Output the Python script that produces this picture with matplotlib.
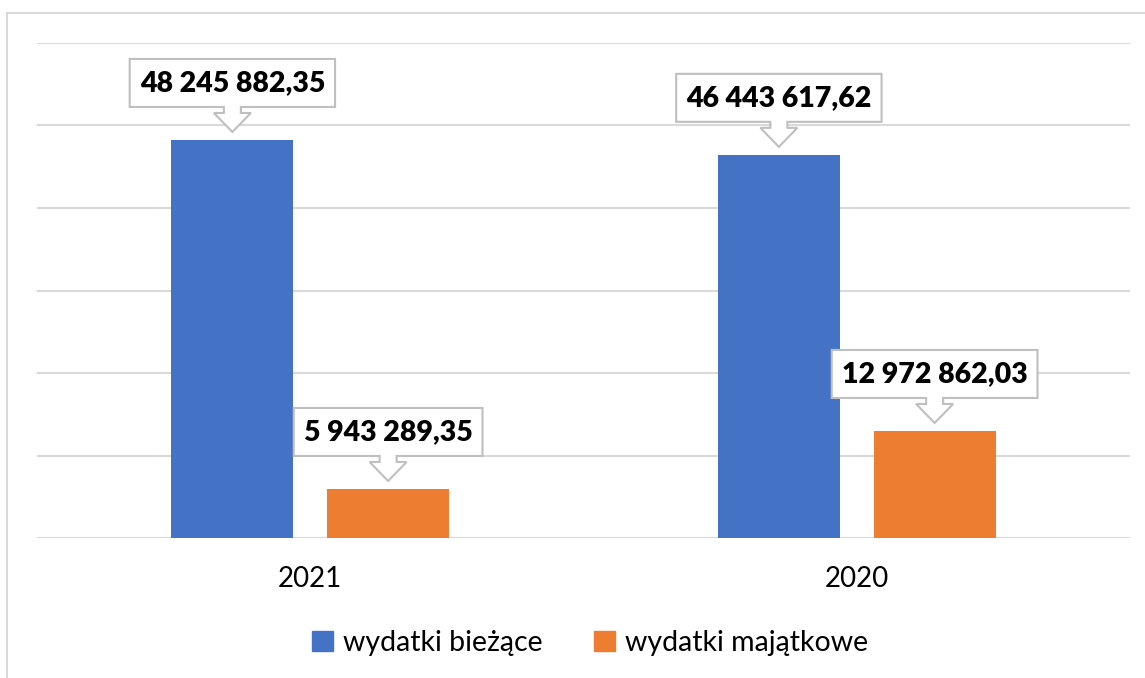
import matplotlib.pyplot as plt
from matplotlib.patches import PathPatch, Rectangle, Patch
from matplotlib.path import Path
from matplotlib.transforms import Affine2D, ScaledTranslation

# dane
lata = ["2021", "2020"]
wydatki_biezace = [48245882.35, 46443617.62]
wydatki_majatkowe = [5943289.35, 12972862.03]
etykiety_biezace = ["48 245 882,35", "46 443 617,62"]
etykiety_majatkowe = ["5 943 289,35", "12 972 862,03"]

NIEBIESKI = "#4472c4"
POMARANCZ = "#ed7d31"
SZARY = "#d9d9d9"

plt.rcParams['font.family'] = ['Lato', 'DejaVu Sans']

fig = plt.figure(figsize=(11.45, 6.78), dpi=100)
ax = fig.add_axes([37 / 1145, 1 - 538 / 678, (1130 - 37) / 1145, (538 - 43) / 678])

# ramka wykresu
fig.patches.append(Rectangle((7 / 1145, -0.1), 1.2, 1 - 13 / 678 + 0.1,
                             transform=fig.transFigure, fill=False,
                             edgecolor=SZARY, linewidth=1.5))

x = list(range(len(lata)))
szer = 0.2235
przes = 0.1425
ax.bar([i - przes for i in x], wydatki_biezace, szer, color=NIEBIESKI, zorder=2)
ax.bar([i + przes for i in x], wydatki_majatkowe, szer, color=POMARANCZ, zorder=2)

ax.set_xlim(-0.5, len(lata) - 0.5)
ax.set_ylim(0, 60e6)
ax.set_yticks([i * 10e6 for i in range(7)])
ax.yaxis.grid(True, color=SZARY, linewidth=1.5)
ax.set_axisbelow(True)
ax.tick_params(axis='y', left=False, labelleft=False)
ax.tick_params(axis='x', bottom=False, pad=17, labelsize=20)
ax.set_xticks(x)
ax.set_xticklabels(lata)
for s in ax.spines.values():
    s.set_visible(False)


# dymki z wartosciami
def dymek(xd, yd, tekst):
    trans = Affine2D() + ScaledTranslation(xd, yd, ax.transData)
    t = ax.text(0, 57, tekst, transform=trans, ha='center', va='center',
                fontsize=20.5, fontweight='heavy', zorder=5)
    fig.canvas.draw()
    w = t.get_window_extent().width / 2 + 10
    verts = [(-w, 33), (-w, 81), (w, 81), (w, 33), (8.5, 33), (8.5, 27),
             (18.5, 27), (0, 8), (-18.5, 27), (-8.5, 27), (-8.5, 33), (-w, 33)]
    codes = [Path.MOVETO] + [Path.LINETO] * (len(verts) - 2) + [Path.CLOSEPOLY]
    ax.add_patch(PathPatch(Path(verts, codes), transform=trans, facecolor='white',
                           edgecolor='#bfbfbf', linewidth=1.5, zorder=4, clip_on=False))


for i in x:
    dymek(i - przes, wydatki_biezace[i], etykiety_biezace[i])
    dymek(i + przes, wydatki_majatkowe[i], etykiety_majatkowe[i])

uchwyty = [Patch(color=NIEBIESKI, label="wydatki bieżące"),
           Patch(color=POMARANCZ, label="wydatki majątkowe")]
fig.legend(handles=uchwyty, loc='center', bbox_to_anchor=(590 / 1145, 1 - 643 / 678),
           ncol=2, frameon=False, fontsize=20.5, handlelength=0.75, handleheight=0.75,
           handletextpad=0.35, columnspacing=1.8)

fig.savefig("out.png", dpi=100)
